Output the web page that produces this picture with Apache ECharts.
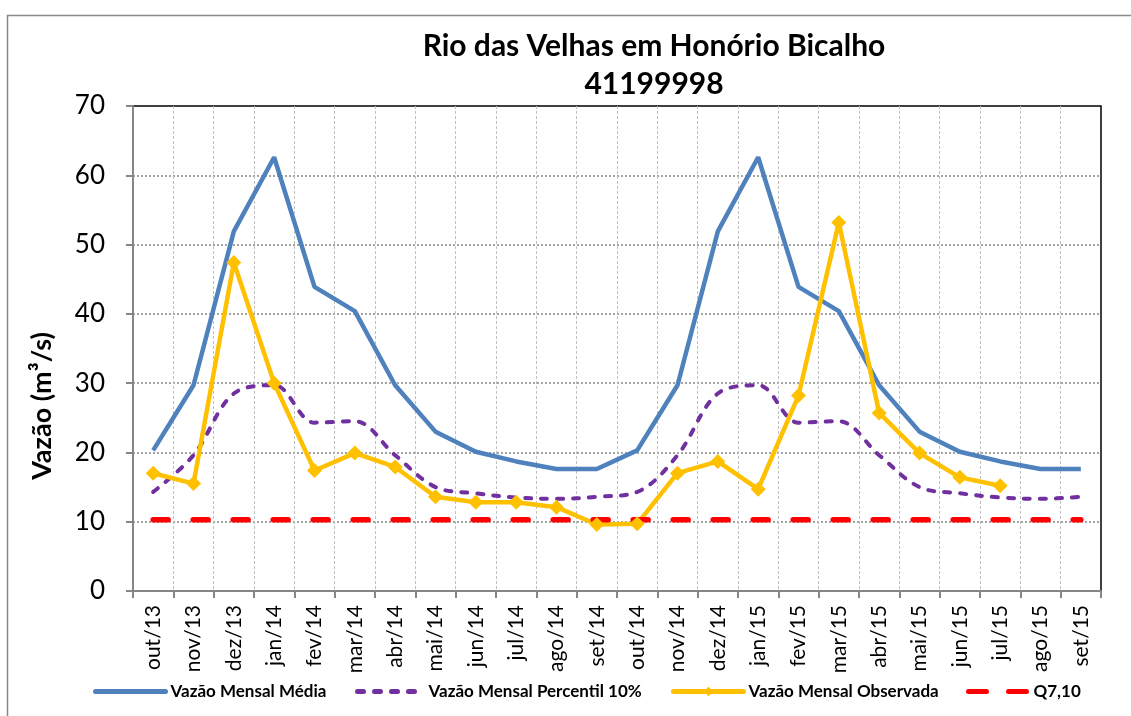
<!DOCTYPE html>
<html>
<head>
<meta charset="utf-8">
<script src="https://cdn.jsdelivr.net/npm/echarts@6/dist/echarts.min.js"></script>
<style>
  html, body { margin: 0; padding: 0; background: #fff; }
  #chart { width: 1131px; height: 716px; }
</style>
</head>
<body>
<div id="chart"></div>
<script>
  // meses
  var categories = ['out/13','nov/13','dez/13','jan/14','fev/14','mar/14','abr/14','mai/14','jun/14','jul/14','ago/14','set/14',
                    'out/14','nov/14','dez/14','jan/15','fev/15','mar/15','abr/15','mai/15','jun/15','jul/15','ago/15','set/15']
  var vazaoMedia = [20.3, 29.7, 51.9, 62.6, 43.9, 40.4, 29.7, 23.0, 20.1, 18.7, 17.6, 17.6,
                    20.3, 29.7, 51.9, 62.6, 43.9, 40.4, 29.7, 23.0, 20.1, 18.7, 17.6, 17.6]
  var vazaoP10 = [14.3, 19.6, 28.5, 29.7, 24.3, 24.5, 19.6, 15.0, 14.1, 13.5, 13.3, 13.6,
                  14.3, 19.6, 28.5, 29.7, 24.3, 24.5, 19.6, 15.0, 14.1, 13.5, 13.3, 13.6]
  var vazaoObservada = [17.0, 15.5, 47.4, 30.0, 17.4, 19.9, 17.9, 13.6, 12.8, 12.8, 12.1, 9.6,
                        9.7, 17.0, 18.7, 14.7, 28.2, 53.2, 25.7, 19.9, 16.4, 15.2, null, null]
  var q710 = [10.3, 10.3, 10.3, 10.3, 10.3, 10.3, 10.3, 10.3, 10.3, 10.3, 10.3, 10.3,
              10.3, 10.3, 10.3, 10.3, 10.3, 10.3, 10.3, 10.3, 10.3, 10.3, 10.3, 10.3]
  var yTicks = [0, 10, 20, 30, 40, 50, 60, 70]

  var font = 'Lato, "Open Sans", sans-serif'
  var axisGray = '#868686'

  function legendItem(name, left, width, lineType, hideSymbol) {
    var item = { name: name }
    if (hideSymbol) item.itemStyle = { opacity: 0 }
    return {
      data: [item],
      left: left,
      bottom: 11,
      itemWidth: width,
      itemHeight: 12,
      itemGap: 6,
      lineStyle: { width: 5, type: lineType, cap: 'round' },
      textStyle: { fontFamily: font, fontSize: 17, fontWeight: 'bold', color: '#000' }
    }
  }

  var myChart = echarts.init(document.getElementById('chart'))
  var option = {
    backgroundColor: '#fff',
    animation: false,
    title: {
      text: 'Rio das Velhas em Honório Bicalho\n41199998',
      left: 649,
      top: 22,
      textAlign: 'center',
      textStyle: { fontFamily: font, fontSize: 30, fontWeight: 'bold', color: '#000', lineHeight: 38 }
    },
    graphic: [
      {
        type: 'rect',
        shape: { x: 7.5, y: 15.5, width: 1200, height: 800 },
        style: { fill: 'none', stroke: '#888', lineWidth: 1.5 },
        silent: true
      },
      {
        type: 'text',
        x: 42,
        y: 406,
        rotation: Math.PI / 2,
        style: {
          text: 'Vazão (m³/s)',
          fontFamily: font, fontSize: 27, fontWeight: 'bold', fill: '#000',
          align: 'center', verticalAlign: 'middle'
        }
      }
    ],
    legend: [
      legendItem('Vazão Mensal Média', 88, 70, 'solid', true),
      legendItem('Vazão Mensal Percentil 10%', 350, 66, [6, 11], true),
      legendItem('Vazão Mensal Observada', 666, 70, 'solid', false),
      legendItem('Q7,10', 961, 60, [18, 22], true)
    ],
    grid: {
      left: 133,
      right: 30,
      top: 106,
      bottom: 125,
      show: true,
      borderColor: '#000',
      borderWidth: 1.5
    },
    xAxis: {
      type: 'category',
      data: categories,
      boundaryGap: true,
      axisLine: { lineStyle: { color: axisGray, width: 2 } },
      axisTick: { show: true, length: 7, lineStyle: { color: axisGray, width: 2 } },
      axisLabel: { rotate: 90, interval: 0, margin: 14, fontFamily: font, fontSize: 21, color: '#000' },
      splitLine: { show: true, showMinLine: false, showMaxLine: false, lineStyle: { color: '#BFBFBF', type: [3, 2], width: 1 } }
    },
    yAxis: {
      type: 'value',
      min: yTicks[0],
      max: yTicks[yTicks.length - 1],
      interval: 10,
      axisLine: { show: true, lineStyle: { color: axisGray, width: 2 } },
      axisTick: { show: true, length: 7, lineStyle: { color: axisGray, width: 2 } },
      axisLabel: { margin: 28, fontFamily: font, fontSize: 26, color: '#000' },
      splitLine: { show: true, showMaxLine: false, lineStyle: { color: axisGray, type: [2, 2], width: 1.5 } }
    },
    series: [
      {
        name: 'Vazão Mensal Média',
        type: 'line',
        data: vazaoMedia,
        symbol: 'none',
        color: '#4F81BD',
        lineStyle: { width: 4.5, color: '#4F81BD' }
      },
      {
        name: 'Vazão Mensal Percentil 10%',
        type: 'line',
        data: vazaoP10,
        symbol: 'none',
        smooth: 0.35,
        color: '#7030A0',
        lineStyle: { width: 4, color: '#7030A0', type: [6, 10], cap: 'round' }
      },
      {
        name: 'Vazão Mensal Observada',
        type: 'line',
        data: vazaoObservada,
        symbol: 'diamond',
        symbolSize: 15,
        color: '#FFC000',
        itemStyle: { color: '#FFC000' },
        lineStyle: { width: 4.5, color: '#FFC000' }
      },
      {
        name: 'Q7,10',
        type: 'line',
        data: q710,
        symbol: 'none',
        color: '#FF0000',
        lineStyle: { width: 5.5, color: '#FF0000', type: [15, 25], cap: 'round' }
      }
    ]
  }
  myChart.setOption(option)
  window.addEventListener('resize', function () { myChart.resize() })
</script>
</body>
</html>
